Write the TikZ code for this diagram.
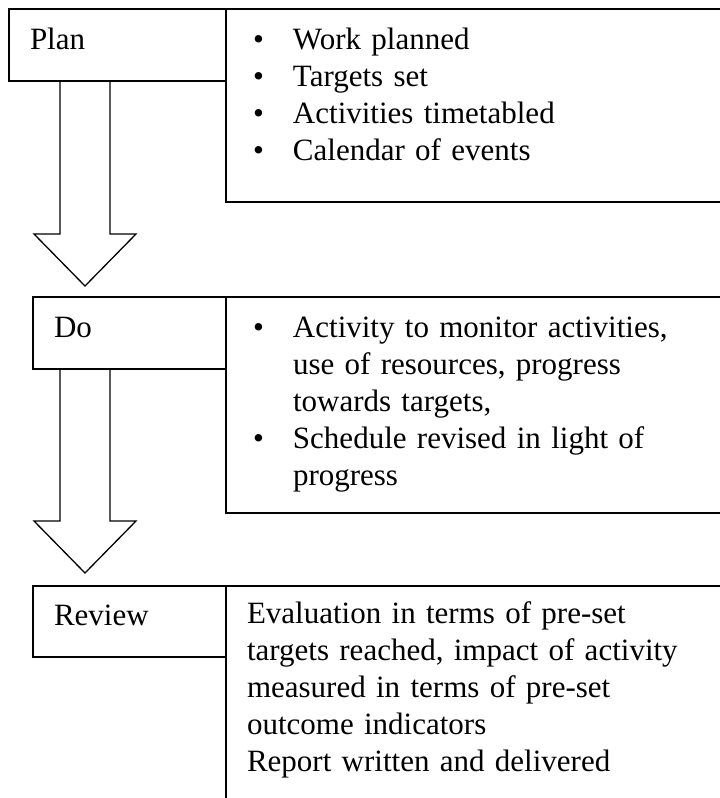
\documentclass[tikz,border=0pt]{standalone}
\usepackage{fontspec}
\setmainfont{Liberation Serif}
\usetikzlibrary{calc}

\tikzset{
  stage/.style={draw, line width=1.3pt, outer sep=0pt, anchor=north west,
    align=left, inner ysep=0pt, inner xsep=21pt, text height=40pt},
  info/.style={stage, text width=466pt, inner xsep=27pt},
  arrowline/.style={draw, line width=1.3pt},
}
\newcommand{\bulletitem}{\makebox[40pt][l]{\textbullet}}
\newcommand{\indentitem}{\hspace*{40pt}}
% block arrow from the bottom of one box down to a tip
\newcommand{\blockarrow}[2]{%
  \draw[arrowline] let \p1=(#1), \p2=(#2) in
    (\x2-25pt,\y1) -- (\x2-25pt,\y2+52pt) -- (\x2-51pt,\y2+52pt) -- (\x2,\y2)
    -- (\x2+51pt,\y2+52pt) -- (\x2+25pt,\y2+52pt) -- (\x2+25pt,\y1);}

\begin{document}
\begin{tikzpicture}[x=1pt, y=-1pt, font=\fontsize{31}{37}\selectfont]

\useasboundingbox (0,0) rectangle (720,798);
\clip (0,0) rectangle (720,798);

% plan
\node[stage, text width=175pt, text depth=32pt] (plan) at (9,9) {Plan};
\node[info, text depth=153pt] (planinfo) at (plan.north east) {%
  \bulletitem Work planned\\
  \bulletitem Targets set\\
  \bulletitem Activities timetabled\\
  \bulletitem Calendar of events};

% do
\node[stage, text width=151pt, text depth=32pt] (do) at (33,297) {Do};
\node[info, text depth=176pt] (doinfo) at (do.north east) {%
  \bulletitem Activity to monitor activities,\\
  \indentitem use of resources, progress\\
  \indentitem towards targets,\\
  \bulletitem Schedule revised in light of\\
  \indentitem progress};

% review
\node[stage, text width=151pt, text height=39pt, text depth=32pt] (review) at (33,586) {Review};
\node[stage, text width=478pt, text height=37pt, text depth=223pt] (reviewinfo) at (review.north east) {%
  Evaluation in terms of pre-set\\
  targets reached, impact of activity\\
  measured in terms of pre-set\\
  outcome indicators\\
  Report written and delivered};

% arrows
\coordinate (tip1) at ($(do.north west)+(52,-11)$);
\coordinate (tip2) at ($(review.north west)+(52,-13)$);
\blockarrow{plan.south}{tip1}
\blockarrow{do.south}{tip2}

\end{tikzpicture}
\end{document}
